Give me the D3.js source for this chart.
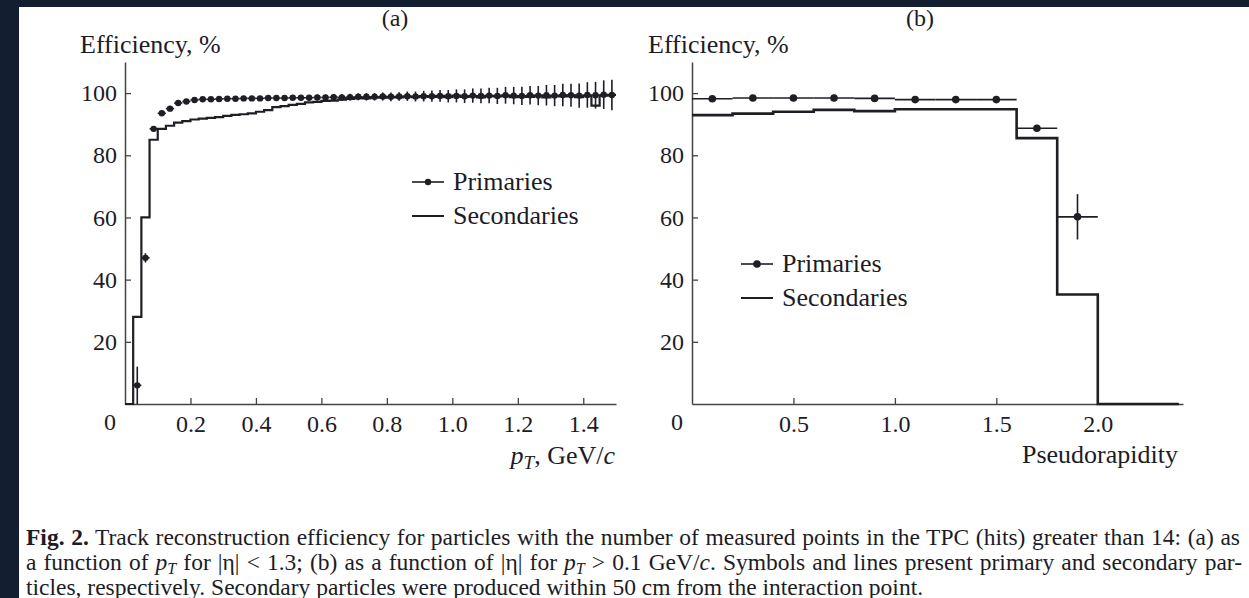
<!DOCTYPE html>
<html>
<head>
<meta charset="utf-8">
<title>Track reconstruction efficiency</title>
<script src="https://d3js.org/d3.v7.min.js"></script>
<style>
  body { margin: 0; background: #131f30; }
  svg { display: block; }
  text { font-family: "Liberation Serif", "DejaVu Serif", serif; fill: #1c1c26; }
</style>
</head>
<body>
<svg width="1249" height="598"></svg>
<script>
// ---- data, panel (a): efficiency vs pT ----
var ptBinWidth = 0.025;
// primaries: bin centres (GeV/c), efficiency %, error %
var ptPrimX = [0.0375,0.0625,0.0875,0.1125,0.1375,0.1625,0.1875,0.2125,0.2375,0.2625,
  0.2875,0.3125,0.3375,0.3625,0.3875,0.4125,0.4375,0.4625,0.4875,0.5125,
  0.5375,0.5625,0.5875,0.6125,0.6375,0.6625,0.6875,0.7125,0.7375,0.7625,
  0.7875,0.8125,0.8375,0.8625,0.8875,0.9125,0.9375,0.9625,0.9875,1.0125,
  1.0375,1.0625,1.0875,1.1125,1.1375,1.1625,1.1875,1.2125,1.2375,1.2625,
  1.2875,1.3125,1.3375,1.3625,1.3875,1.4125,1.4375,1.4625,1.4875];
var ptPrimY = [6,47,88.5,93.5,95,96.8,97.3,97.8,98,98,
  98.1,98.2,98.2,98.3,98.3,98.3,98.4,98.4,98.4,98.5,
  98.5,98.5,98.6,98.6,98.7,98.6,98.7,98.8,98.8,98.8,
  98.9,98.8,98.9,99,98.9,99,99,99.1,99,99.1,
  99,99.2,99.1,99.2,99.1,99.3,99.2,99.1,99.3,99.2,
  99.3,99.2,99.4,99.3,99.2,99.4,99.3,99.5,99.4];
var ptPrimErr = [6,1.5,0.8,0.5,0.4,0.4,0.4,0.4,0.4,0.4,
  0.5,0.5,0.5,0.5,0.6,0.6,0.6,0.7,0.7,0.7,
  0.8,0.8,0.9,0.9,1,1,1.1,1.1,1.2,1.2,
  1.3,1.4,1.4,1.5,1.6,1.7,1.8,1.9,2,2.1,
  2.2,2.3,2.4,2.5,2.6,2.7,2.8,2.9,3,3.1,
  3.3,3.4,3.6,3.7,3.9,4.1,4.3,4.6,4.9];
// secondaries: histogram bins starting at 0 (width 0.025)
var ptSecY = [0,28,60,85,88.5,89.5,90.5,91,91.5,91.8,
  92,92.3,92.7,93,93.2,93.5,94,94.5,95.5,95.8,
  96.2,96.5,97,97.2,97.5,97.6,97.9,98.1,98.4,98.3,
  98.6,98.5,98.8,98.6,98.9,98.7,99,98.8,99.1,98.7,
  99.2,98.8,99,98.6,99.1,98.9,99.2,98.7,99,98.8,
  99.2,98.6,99.1,98.9,99.3,98.7,99.1,96,99.2,99.4];

// ---- data, panel (b): efficiency vs pseudorapidity ----
var etaBinWidth = 0.2;
var etaPrimX = [0.1,0.3,0.5,0.7,0.9,1.1,1.3,1.5,1.7,1.9];
var etaPrimY = [98.2,98.4,98.4,98.4,98.3,97.9,97.9,97.9,88.7,60.2];
var etaPrimErr = [0.3,0.3,0.3,0.3,0.3,0.3,0.3,0.4,1,7.3];
var etaSecY = [92.9,93.4,94,94.6,94.2,94.8,94.8,94.8,85.5,35.2,0,0];

// ---- labels ----
var seriesNames = ["Primaries", "Secondaries"];
var yTicks = [20, 40, 60, 80, 100];
var ptTicks = [0.2, 0.4, 0.6, 0.8, 1.0, 1.2, 1.4];
var etaTicks = [0.5, 1.0, 1.5, 2.0];

var svg = d3.select("svg");
svg.append("rect").attr("x", 19).attr("y", 7).attr("width", 1230).attr("height", 591).attr("fill", "#fff");

var ink = "#1e1e24";
var fs = 24;   // tick labels
var fl = 26;   // titles and legend

function panel(opt) {
  var g = svg.append("g");
  var x = d3.scaleLinear().domain(opt.xDomain).range(opt.xRange);
  var y = d3.scaleLinear().domain([0, 110]).range([404, 62]);

  // axes
  var ax = g.append("g").attr("transform", "translate(0,404)")
    .call(d3.axisBottom(x).tickValues(opt.xTicks).tickSize(-6).tickSizeOuter(0)
      .tickPadding(11).tickFormat(d3.format(".1f")));
  var ay = g.append("g").attr("transform", "translate(" + opt.xRange[0] + ",0)")
    .call(d3.axisLeft(y).tickValues(yTicks).tickSize(-6).tickSizeOuter(0).tickPadding(8));
  [ax, ay].forEach(function(a) {
    a.select(".domain").attr("stroke", "#444").attr("stroke-width", 1.5);
    a.selectAll(".tick line").attr("stroke", "#444").attr("stroke-width", 1.3);
    a.selectAll(".tick text").attr("font-size", fs).attr("fill", ink);
  });
  g.append("text").attr("x", opt.xRange[0] - 15).attr("y", 430).attr("text-anchor", "middle")
    .attr("font-size", fs).text("0");

  // secondaries histogram (step line)
  var pts = [];
  opt.secY.forEach(function(v, i) {
    pts.push([i * opt.bw, v]);
    pts.push([(i + 1) * opt.bw, v]);
  });
  g.append("path").datum(pts)
    .attr("d", d3.line().x(function(d) { return x(d[0]); }).y(function(d) { return y(d[1]); }))
    .attr("fill", "none").attr("stroke", ink).attr("stroke-width", opt.secW);

  // primaries with error bars
  var p = g.selectAll(".prim").data(opt.primX).enter().append("g");
  p.append("line")
    .attr("x1", function(d) { return x(d - opt.bw / 2); })
    .attr("x2", function(d) { return x(d + opt.bw / 2); })
    .attr("y1", function(d, i) { return y(opt.primY[i]); })
    .attr("y2", function(d, i) { return y(opt.primY[i]); })
    .attr("stroke", ink).attr("stroke-width", 1.6);
  p.append("line")
    .attr("x1", function(d) { return x(d); }).attr("x2", function(d) { return x(d); })
    .attr("y1", function(d, i) { return y(Math.max(0, opt.primY[i] - opt.primErr[i])); })
    .attr("y2", function(d, i) { return y(opt.primY[i] + opt.primErr[i]); })
    .attr("stroke", ink).attr("stroke-width", 1.6);
  p.append("circle")
    .attr("cx", function(d) { return x(d); })
    .attr("cy", function(d, i) { return y(opt.primY[i]); })
    .attr("r", opt.r).attr("fill", ink);

  // labels
  g.append("text").attr("x", opt.yLabelX).attr("y", 53).attr("font-size", fl).text("Efficiency, %");
  g.append("text").attr("x", opt.tagX).attr("y", 26).attr("text-anchor", "middle").attr("font-size", fs).text(opt.tag);

  // legend
  var lg = g.append("g");
  seriesNames.forEach(function(name, i) {
    var ly = opt.legY + i * 34;
    lg.append("line").attr("x1", opt.legX).attr("x2", opt.legX + 32).attr("y1", ly).attr("y2", ly)
      .attr("stroke", ink).attr("stroke-width", i === 0 ? 1.6 : 2);
    if (i === 0) lg.append("circle").attr("cx", opt.legX + 16).attr("cy", ly).attr("r", opt.r).attr("fill", ink);
    lg.append("text").attr("x", opt.legX + 41).attr("y", ly + 8).attr("font-size", fl).text(name);
  });
  return g;
}

var ga = panel({
  xDomain: [0, 1.5], xRange: [125, 616], xTicks: ptTicks, bw: ptBinWidth,
  primX: ptPrimX, primY: ptPrimY, primErr: ptPrimErr, secY: ptSecY,
  secW: 2.2, r: 3.2, yLabelX: 80, tagX: 395, tag: "(a)", legX: 412, legY: 182
});
var xt = ga.append("text").attr("x", 615).attr("y", 464).attr("text-anchor", "end").attr("font-size", fl);
xt.append("tspan").attr("font-style", "italic").text("p");
xt.append("tspan").attr("font-style", "italic").attr("font-size", 19).attr("dy", 5).text("T");
xt.append("tspan").attr("dy", -5).text(", GeV/");
xt.append("tspan").attr("font-style", "italic").text("c");

var gb = panel({
  xDomain: [0, 2.42], xRange: [692, 1183], xTicks: etaTicks, bw: etaBinWidth,
  primX: etaPrimX, primY: etaPrimY, primErr: etaPrimErr, secY: etaSecY,
  secW: 2.6, r: 3.8, yLabelX: 648, tagX: 920, tag: "(b)", legX: 741, legY: 264
});
gb.append("text").attr("x", 1178).attr("y", 463).attr("text-anchor", "end").attr("font-size", fl).text("Pseudorapidity");

// ---- caption ----
var cfs = 23.5;
function justify(t, width) {
  var w = t.node().getComputedTextLength();
  var txt = t.text();
  var spaces = (txt.match(/ /g) || []).length;
  t.attr("word-spacing", (width - w) / spaces);
}
var c1 = svg.append("text").attr("x", 26).attr("y", 545).attr("font-size", cfs);
c1.append("tspan").attr("font-weight", "bold").text("Fig. 2.");
c1.append("tspan").text(" Track reconstruction efficiency for particles with the number of measured points in the TPC (hits) greater than 14: (a) as");
justify(c1, 1214);

var c2 = svg.append("text").attr("x", 26).attr("y", 570).attr("font-size", cfs);
function pT(t) {
  t.append("tspan").attr("font-style", "italic").text("p");
  t.append("tspan").attr("font-style", "italic").attr("font-size", 16).attr("dy", 4).text("T");
}
c2.append("tspan").text("a function of ");
pT(c2);
c2.append("tspan").attr("dy", -4).text(" for |η| < 1.3; (b) as a function of |η| for ");
pT(c2);
c2.append("tspan").attr("dy", -4).text(" > 0.1 GeV/");
c2.append("tspan").attr("font-style", "italic").text("c");
c2.append("tspan").text(". Symbols and lines present primary and secondary par-");
justify(c2, 1216);

svg.append("text").attr("x", 26).attr("y", 595).attr("font-size", cfs)
  .text("ticles, respectively. Secondary particles were produced within 50 cm from the interaction point.");
</script>
</body>
</html>
